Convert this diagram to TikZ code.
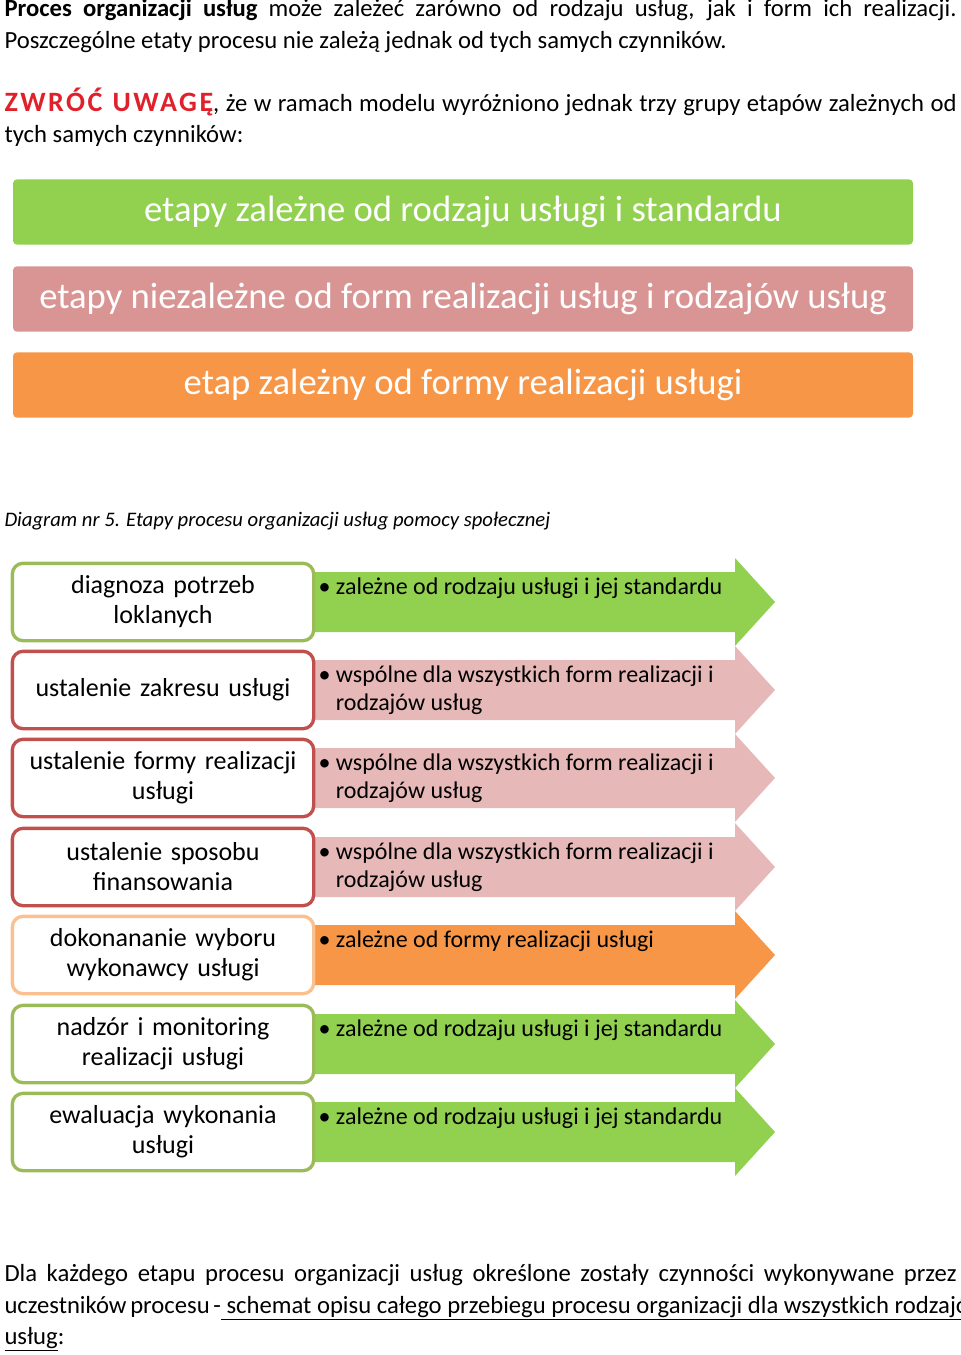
\documentclass[tikz,border=0pt]{standalone}
\usepackage{fontspec}
\setmainfont{Carlito}
\usetikzlibrary{positioning}
\definecolor{grn}{HTML}{92D050}
\definecolor{grnline}{HTML}{9BBB59}
\definecolor{pnk}{HTML}{D99594}
\definecolor{pnklight}{HTML}{E6B9B8}
\definecolor{redline}{HTML}{C0504D}
\definecolor{orn}{HTML}{F79646}
\definecolor{ornline}{HTML}{FAC090}
\definecolor{warn}{HTML}{E0202A}

\begin{document}
\begin{tikzpicture}[x=0.75pt, y=-0.75pt, thick]
        \tikzstyle{banner} = [rectangle, rounded corners=3pt, text=white, minimum width=675pt, minimum height=49pt, font=\fontsize{27.5}{30}\selectfont, inner sep=0pt]
        \tikzstyle{stage} = [rectangle, draw, line width=2.5pt, fill=white, rounded corners=8pt, minimum width=226pt, minimum height=58pt, text width=224pt, align=center, font=\fontsize{19.5}{22.5}\selectfont, inner sep=0pt]
        \tikzstyle{note} = [anchor=north west, inner sep=0pt, font=\fontsize{18}{21}\selectfont]
        \tikzstyle{para} = [anchor=north west, text width=714pt, align=justify, font=\fontsize{18.5}{23.5}\selectfont, inner sep=0pt]

        \useasboundingbox (0,0) rectangle (960,1355);

        % text above
        \node [para] (intro) at (4,-1) {\textbf{Proces organizacji usług} może zależeć zarówno od rodzaju usług, jak i form ich realizacji. Poszczególne etaty procesu nie zależą jednak od tych samych czynników.};
        \node [para] (attn) at (4,87) {{\fontsize{21}{23}\selectfont\bfseries\addfontfeature{LetterSpace=9}\color{warn}ZWRÓĆ UWAGĘ}, że w ramach modelu wyróżniono jednak trzy grupy etapów zależnych od tych samych czynników:};

        % groups
        \node [banner, fill=grn] (dep) at (463,212) {etapy zależne od rodzaju usługi i standardu};
        \node [banner, fill=pnk] (indep) at (463,299) {etapy niezależne od form realizacji usług i rodzajów usług};
        \node [banner, fill=orn] (form) at (463,385) {etap zależny od formy realizacji usługi};

        \node [anchor=west, font=\fontsize{15.5}{18}\selectfont\itshape, inner sep=0pt] (caption) at (4,521) {Diagram nr 5. Etapy procesu organizacji usług pomocy społecznej};

        % stages
        \foreach \cy/\fc/\lc/\name/\txt/\lbl in {
            602/grn/grnline/diag/{diagnoza potrzeb\\loklanych}/{zależne od rodzaju usługi i jej standardu},
            690/pnklight/redline/zakres/{ustalenie zakresu usługi}/{wspólne dla wszystkich form realizacji i\\rodzajów usług},
            778/pnklight/redline/forma/{ustalenie formy realizacji\\usługi}/{wspólne dla wszystkich form realizacji i\\rodzajów usług},
            867/pnklight/redline/finans/{ustalenie sposobu\\finansowania}/{wspólne dla wszystkich form realizacji i\\rodzajów usług},
            955/orn/ornline/wybor/{dokonananie wyboru\\wykonawcy usługi}/{zależne od formy realizacji usługi},
            1044/grn/grnline/nadzor/{nadzór i monitoring\\realizacji usługi}/{zależne od rodzaju usługi i jej standardu},
            1132/grn/grnline/ewal/{ewaluacja wykonania\\usługi}/{zależne od rodzaju usługi i jej standardu}} {
            \fill [\fc] (300,\cy-30) -- (735,\cy-30) -- (735,\cy-44) -- (775,\cy) -- (735,\cy+44) -- (735,\cy+30) -- (300,\cy+30) -- cycle;
            \node [stage, draw=\lc] (\name) at (163,\cy) {\txt};
            \node [note] (\name-note) at (318,\cy-28) {\textbullet\ \begin{tabular}[t]{@{}l@{}}\lbl\end{tabular}};
        }

        % text below
        \node [para] (outro) at (4,1264) {Dla każdego etapu procesu organizacji usług określone zostały czynności wykonywane przez uczestników procesu -\underline{ schemat opisu całego przebiegu procesu organizacji dla wszystkich rodzajów} \underline{usług}:};
\end{tikzpicture}
\end{document}
